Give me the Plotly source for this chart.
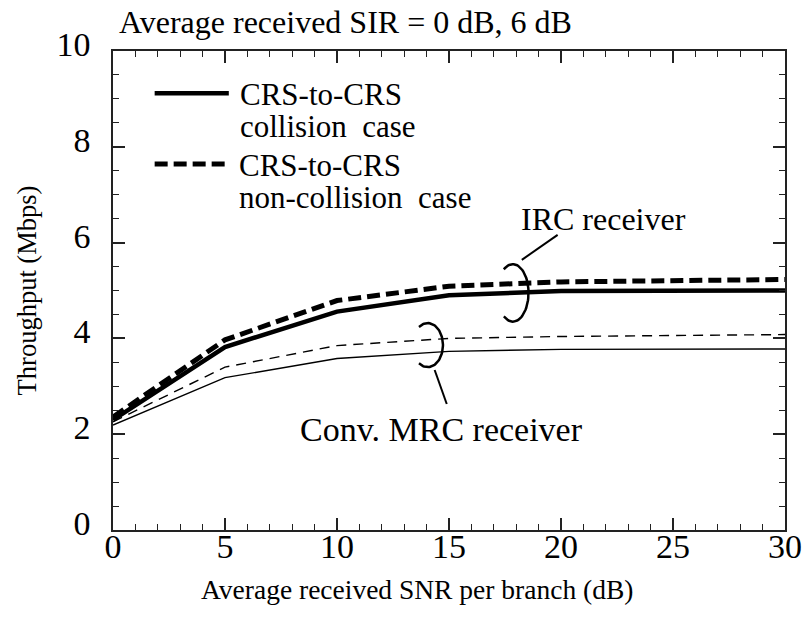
import numpy as np
import plotly.graph_objects as go

# SNR points (dB) and throughput (Mbps)
snr = [0, 5, 10, 15, 20, 30]
irc_collision = [2.30, 3.82, 4.56, 4.90, 4.99, 5.00]
irc_noncollision = [2.36, 3.97, 4.79, 5.09, 5.18, 5.23]
mrc_collision = [2.19, 3.18, 3.58, 3.73, 3.77, 3.78]
mrc_noncollision = [2.26, 3.40, 3.85, 4.00, 4.04, 4.08]

x_ticks = [0, 5, 10, 15, 20, 25, 30]
y_ticks = [0, 2, 4, 6, 8, 10]

FONT = "Liberation Serif, Times New Roman, serif"
INK = "#000000"

fig = go.Figure()

fig.add_trace(go.Scatter(x=snr, y=irc_collision, mode="lines",
                         line=dict(color=INK, width=4.5), showlegend=False))
fig.add_trace(go.Scatter(x=snr, y=irc_noncollision, mode="lines",
                         line=dict(color=INK, width=5, dash="13px,6px"), showlegend=False))
fig.add_trace(go.Scatter(x=snr, y=mrc_collision, mode="lines",
                         line=dict(color=INK, width=1.4), showlegend=False))
fig.add_trace(go.Scatter(x=snr, y=mrc_noncollision, mode="lines",
                         line=dict(color=INK, width=1.4, dash="10px,7px"), showlegend=False))


def bracket(cx, cy, rx, ry, a0=-125, a1=125, n=60):
    t = np.radians(np.linspace(a0, a1, n))
    return cx + rx * np.cos(t), cy + ry * np.sin(t)


# grouping brackets with leader lines
for (cx, cy, rx, ry), (lx, ly) in [
    ((17.85, 4.95, 0.70, 0.60), ([18.25, 19.85], [5.64, 6.16])),
    ((14.05, 3.86, 0.68, 0.46), ([14.36, 14.90], [3.34, 2.63])),
]:
    bx, by = bracket(cx, cy, rx, ry)
    fig.add_trace(go.Scatter(x=bx, y=by, mode="lines", line=dict(color=INK, width=2.5),
                             showlegend=False, hoverinfo="skip"))
    fig.add_trace(go.Scatter(x=lx, y=ly, mode="lines", line=dict(color=INK, width=2),
                             showlegend=False, hoverinfo="skip"))

# legend drawn as line samples with text
fig.add_shape(type="line", x0=1.86, x1=5.17, y0=9.12, y1=9.12,
              line=dict(color=INK, width=4.5))
fig.add_shape(type="line", x0=1.86, x1=5.17, y0=7.64, y1=7.64,
              line=dict(color=INK, width=5, dash="13px,6px"))

notes = [
    (5.56, 9.10, "CRS-to-CRS"),
    (5.56, 8.43, "collision&nbsp; case"),
    (5.52, 7.62, "CRS-to-CRS"),
    (5.52, 6.95, "non-collision&nbsp; case"),
]
for x, y, txt in notes:
    fig.add_annotation(x=x, y=y, text=txt, showarrow=False, xanchor="left", yanchor="middle",
                       font=dict(family=FONT, size=31, color=INK))

fig.add_annotation(x=21.9, y=6.49, text="IRC receiver", showarrow=False,
                   xanchor="center", yanchor="middle", font=dict(family=FONT, size=32, color=INK))
fig.add_annotation(x=14.65, y=2.09, text="Conv. MRC receiver", showarrow=False,
                   xanchor="center", yanchor="middle", font=dict(family=FONT, size=34, color=INK))
fig.add_annotation(x=0.006, y=1.06, xref="paper", yref="paper",
                   text="Average received SIR = 0 dB, 6 dB", showarrow=False,
                   xanchor="left", yanchor="middle", font=dict(family=FONT, size=32, color=INK))
fig.add_annotation(x=0.452, y=-0.125, xref="paper", yref="paper",
                   text="Average received SNR per branch (dB)", showarrow=False,
                   xanchor="center", yanchor="middle", font=dict(family=FONT, size=27.5, color=INK))

axis_common = dict(
    showgrid=False, zeroline=False, showline=True, linecolor="#222222", linewidth=1.5,
    mirror="ticks", ticks="inside", tickcolor="#222222", tickwidth=1.5, ticklen=12,
    tickfont=dict(family=FONT, size=34, color=INK), automargin=False,
)

fig.update_xaxes(range=[0, 30], tickvals=x_ticks, ticktext=[str(v) for v in x_ticks],
                 minor=dict(dtick=1, ticks="inside", ticklen=6, tickcolor="#222222", tickwidth=1.3),
                 ticklabelstandoff=-15,
                 **axis_common)
fig.update_yaxes(range=[0, 10], tickvals=y_ticks, ticktext=[str(v) for v in y_ticks],
                 minor=dict(dtick=0.5, ticks="inside", ticklen=6, tickcolor="#222222", tickwidth=1.3),
                 ticklabelstandoff=14, ticklabelshift=-7,
                 title=dict(text="Throughput (Mbps)",
                            font=dict(family=FONT, size=26.5, color=INK), standoff=12),
                 **axis_common)

fig.update_layout(
    width=805, height=617,
    margin=dict(l=113, r=20, t=51, b=87),
    paper_bgcolor="white", plot_bgcolor="white",
    showlegend=False,
    font=dict(family=FONT, color=INK),
)

fig.write_html("out.html")
